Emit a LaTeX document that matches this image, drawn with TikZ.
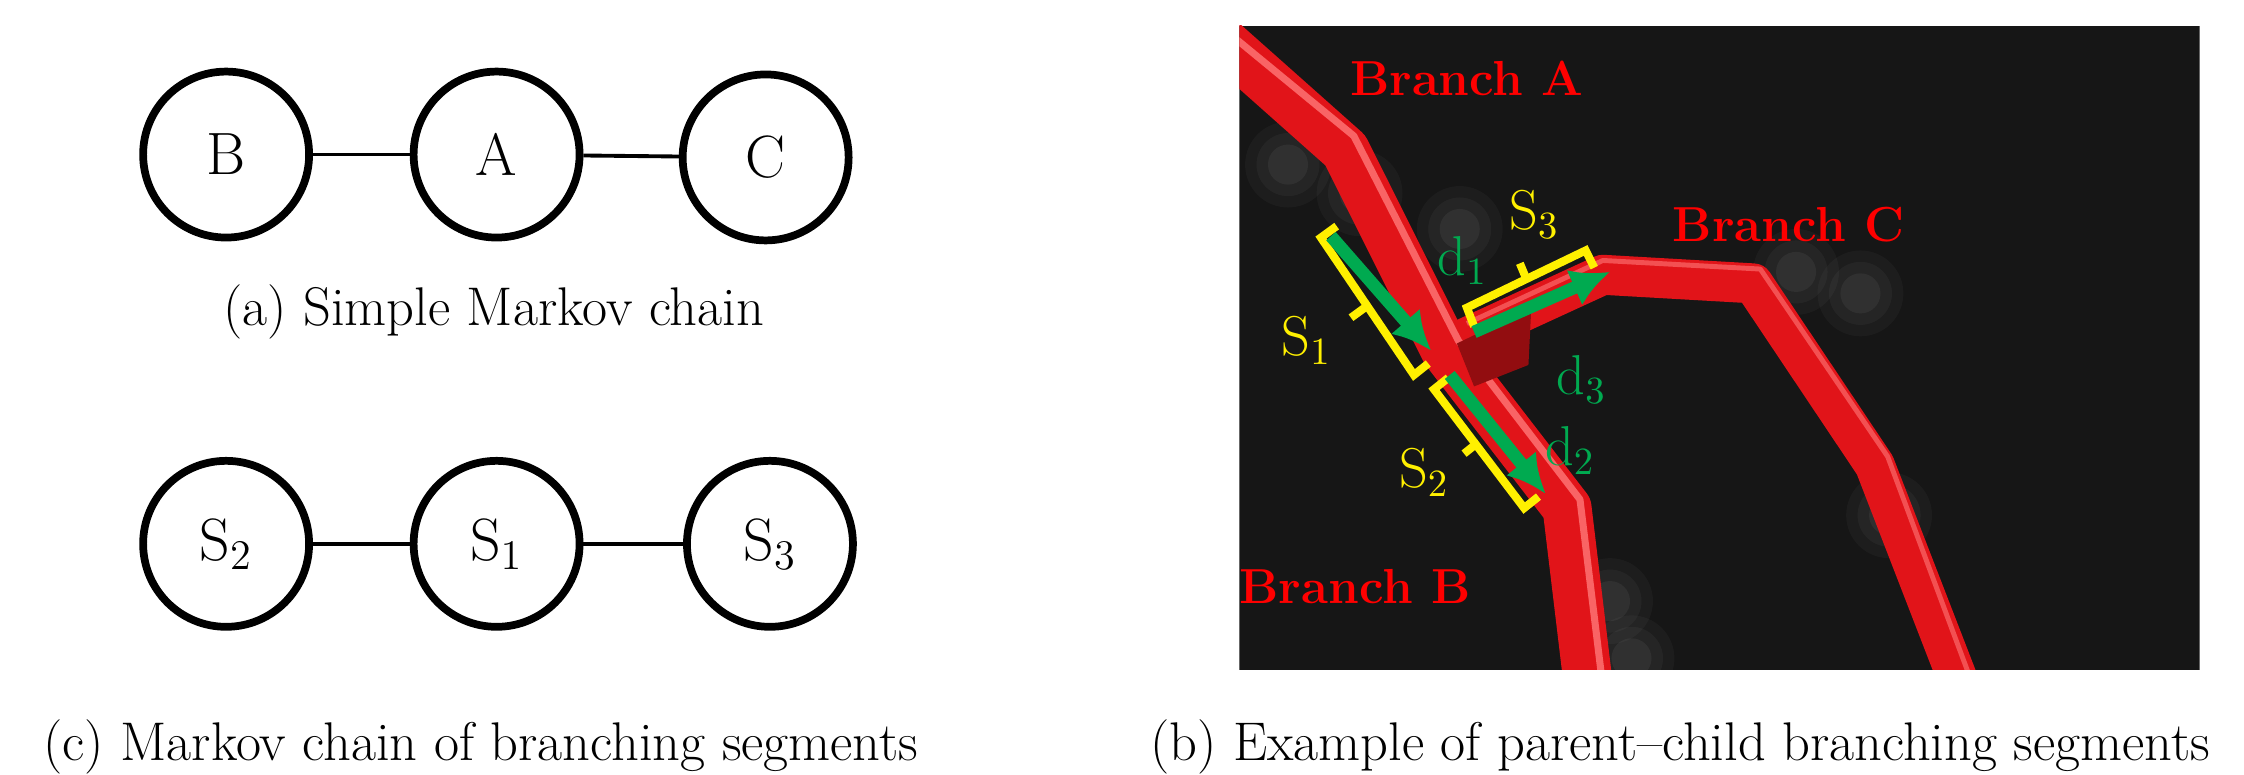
\documentclass[tikz,border=0pt]{standalone}
\usetikzlibrary{calc,arrows.meta}
\definecolor{tube}{RGB}{225,20,25}
\definecolor{tubehi}{RGB}{255,120,120}
\definecolor{ylw}{RGB}{255,240,0}
\definecolor{grn}{RGB}{0,170,80}
\definecolor{bg}{RGB}{22,22,22}
\begin{document}
\begin{tikzpicture}[x=0.01431cm,y=-0.01431cm,
  st/.style={circle,draw,line width=2.2pt,minimum size=1.66cm,inner sep=0pt,font=\fontsize{17}{19}\selectfont},
  ed/.style={line width=1.1pt},
  capt/.style={font=\fontsize{15.5}{18}\selectfont},
  br/.style={text=red,font=\fontsize{14}{16}\selectfont\bfseries},
  yl/.style={text=ylw,font=\fontsize{16}{18}\selectfont},
  gl/.style={text=grn,font=\fontsize{16}{18}\selectfont},
  brk/.style={draw=ylw,line width=2.3pt},
  arr/.style={draw=grn,line width=3.6pt,-{Latex[length=11pt,width=11pt]}}]
\useasboundingbox (0,0) rectangle (1568,541.5);
% left graphs
\node[st] (B) at (158,108) {B};
\node[st] (A) at (347,108) {A};
\node[st] (C) at (535,110) {C};
\draw[ed] (B) -- (A); \draw[ed] (A) -- (C);
\node[capt] (ca) at (345,218) {(a) Simple Markov chain};
\node[st] (S2) at (158,380) {S$_2$};
\node[st] (S1) at (347,380) {S$_1$};
\node[st] (S3) at (538,380) {S$_3$};
\draw[ed] (S2) -- (S1); \draw[ed] (S1) -- (S3);
\node[capt] (cc) at (336,522) {(c) Markov chain of branching segments};
\node[capt] (cb) at (1174,522) {(b) Example of parent--child branching segments};
% image
\begin{scope}
\clip (866,18) rectangle (1537,468);
\fill[bg] (866,18) rectangle (1537,468);
\foreach \p in {(900,115),(950,135),(1255,190),(1300,205),(1320,360),(1125,420),(1140,460),(1020,160)}
  \foreach \r/\o in {30/0.03,22/0.04,14/0.05}
    \fill[white,opacity=\o] \p circle (\r);
\draw[tube,line width=0.49cm,line join=round] (850,25) -- (940,105) -- (1010,245) -- (1095,355) -- (1110,480);
\draw[tube,line width=0.4cm,line join=round] (1020,238) -- (1120,192) -- (1225,198) -- (1310,325) -- (1370,480);
\draw[tubehi,line width=2pt,line join=round,opacity=0.8] (850,16) -- (946,95) -- (1019,238) -- (1104,349) -- (1120,480);
\draw[tubehi,line width=1.4pt,line join=round,opacity=0.6] (1025,226) -- (1120,182) -- (1230,188) -- (1319,319) -- (1379,480);
\fill[tube!65!black] (1018,240) -- (1070,215) -- (1068,255) -- (1030,270) -- cycle;
\end{scope}
\node[br] (bA) at (1025,55) {Branch A};
\node[br] (bC) at (1250,157) {Branch C};
\node[br] (bB) at (947,410) {Branch B};
% brackets
\draw[brk] (934,158) -- (923,166) -- (988,262) -- (998,254);
\draw[brk] (955,214) -- (944,222);
\draw[brk] (1012,264) -- (1002,272) -- (1065,355) -- (1075,347);
\draw[brk] (1033,309) -- (1023,317);
\draw[brk] (1030,228) -- (1025,215) -- (1108,175) -- (1114,187);
\draw[brk] (1067,196) -- (1062,184);
\node[yl] (lS1) at (913,238) {S$_1$};
\node[yl] (lS2) at (995,330) {S$_2$};
\node[yl] (lS3) at (1072,150) {S$_3$};
% arrows
\coordinate (a1) at (930,165); \coordinate (b1) at (1000,245);
\coordinate (a2) at (1013,262); \coordinate (b2) at (1080,345);
\coordinate (a3) at (1030,232); \coordinate (b3) at (1125,190);
\draw[arr] (a1) -- (b1); \draw[arr] (a2) -- (b2); \draw[arr] (a3) -- (b3);
\node[gl] (d1) at (1022,182) {d$_1$};
\node[gl] (d2) at (1097,315) {d$_2$};
\node[gl] (d3) at (1105,265) {d$_3$};
\end{tikzpicture}
\end{document}
